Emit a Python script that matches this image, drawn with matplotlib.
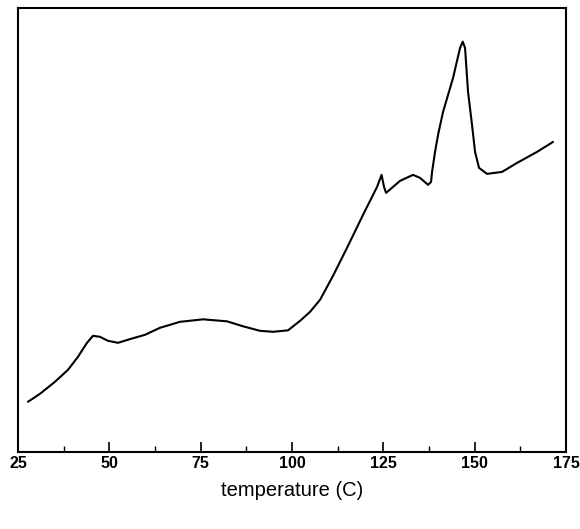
import matplotlib
matplotlib.use("Agg")
import matplotlib.pyplot as plt
from matplotlib.ticker import MultipleLocator

temperature = [27.74, 31.02, 35.13, 38.69, 41.42, 43.89, 45.53, 47.44, 49.63, 52.37,
               55.93, 59.76, 63.87, 69.34, 75.64, 82.21, 86.59, 91.24, 94.80, 98.90,
               102.19, 104.93, 107.66, 111.22, 115.05, 119.43, 123.27, 124.50, 125.18, 125.73,
               127.65, 129.56, 133.12, 135.04, 137.23, 138.05, 138.32, 139.14, 139.96, 141.33,
               144.07, 145.98, 146.72, 147.35, 148.17, 149.26, 150.09, 151.18, 153.37, 157.48,
               161.59, 167.06, 171.44]
signal = [11.26, 13.06, 15.77, 18.47, 21.40, 24.55, 26.13, 25.90, 25.00, 24.55,
          25.45, 26.35, 27.93, 29.28, 29.84, 29.39, 28.27, 27.25, 27.03, 27.36,
          29.50, 31.53, 34.23, 39.64, 45.95, 53.38, 59.68, 62.39, 59.68, 58.33,
          59.68, 61.04, 62.39, 61.71, 60.14, 60.81, 63.06, 67.57, 71.40, 76.58,
          84.23, 90.99, 92.41, 90.99, 81.08, 73.65, 67.57, 63.96, 62.61, 63.06,
          65.09, 67.57, 69.82]
xticks = [25, 50, 75, 100, 125, 150, 175]

plt.rcParams['font.family'] = ['Liberation Sans', 'DejaVu Sans']
fig = plt.figure(figsize=(5.8, 5.29), dpi=100)
ax = fig.add_axes([0.031, 0.146, 0.945, 0.839])
ax.plot(temperature, signal, color='black', lw=1.5, solid_joinstyle='round',
        solid_capstyle='round')
ax.set_xlim(25, 175)
ax.set_ylim(0, 100)
ax.set_xticks(xticks)
ax.set_xticklabels([str(t) for t in xticks], fontweight='bold', fontsize=11.5)
ax.xaxis.set_minor_locator(MultipleLocator(12.5))
ax.tick_params(axis='x', which='major', direction='in', length=7, width=1.2, pad=3)
ax.tick_params(axis='x', which='minor', direction='in', length=4, width=1.0)
ax.set_yticks([])
for s in ax.spines.values():
    s.set_linewidth(1.5)
ax.set_xlabel('temperature (C)', fontsize=14.5, labelpad=7)
fig.savefig('out.png', dpi=100)
